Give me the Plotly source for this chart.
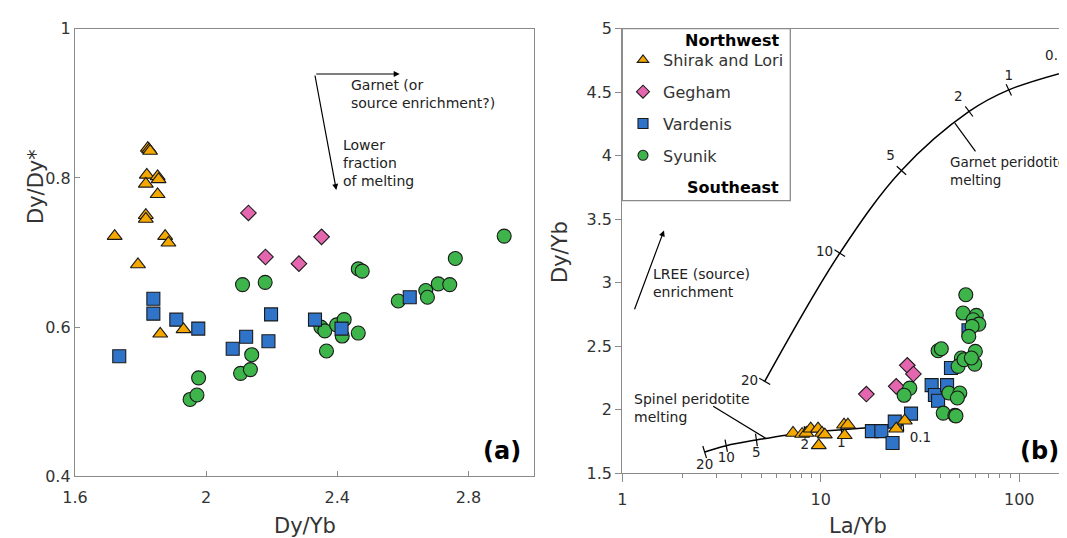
import numpy as np
import plotly.graph_objects as go

W, H = 1067, 538

# ---------------- data : panel (a) Dy/Dy* vs Dy/Yb ----------------
shirak_a_x = [1.822, 1.826, 1.829, 1.819, 1.852, 1.855, 1.816, 1.852, 1.816, 1.816, 1.721, 1.875, 1.885, 1.792, 1.860, 1.931]
shirak_a_y = [0.840, 0.838, 0.836, 0.804, 0.802, 0.798, 0.792, 0.778, 0.750, 0.745, 0.722, 0.722, 0.713, 0.684, 0.591, 0.597]

gegham_a_x = [2.129, 2.352, 2.181, 2.283]
gegham_a_y = [0.753, 0.721, 0.694, 0.685]

vardenis_a_x = [1.735, 1.839, 1.839, 1.909, 1.976, 2.081, 2.122, 2.190, 2.198, 2.332, 2.413, 2.621]
vardenis_a_y = [0.561, 0.638, 0.618, 0.610, 0.598, 0.571, 0.587, 0.581, 0.617, 0.610, 0.598, 0.640]

syunik_a_x = [1.951, 1.972, 1.977, 2.105, 2.135, 2.139, 2.111, 2.180, 2.350, 2.362, 2.398, 2.421,
              2.415, 2.464, 2.367, 2.464, 2.476, 2.586, 2.670, 2.675, 2.708, 2.743, 2.760, 2.909]
syunik_a_y = [0.503, 0.509, 0.532, 0.538, 0.543, 0.563, 0.657, 0.660, 0.600, 0.595, 0.603, 0.610,
              0.588, 0.592, 0.568, 0.678, 0.675, 0.635, 0.649, 0.640, 0.658, 0.657, 0.692, 0.722]

# ---------------- data : panel (b) Dy/Yb vs La/Yb ----------------
shirak_b_x = [7.25, 8.05, 8.46, 8.90, 9.69, 10.15, 10.48, 9.77, 13.1, 13.7, 13.2, 24.0, 26.5]
shirak_b_y = [1.815, 1.807, 1.815, 1.849, 1.849, 1.815, 1.802, 1.718, 1.880, 1.880, 1.797, 1.849, 1.912]

gegham_b_x = [16.97, 24.0, 27.3, 29.3]
gegham_b_y = [2.122, 2.183, 2.348, 2.280]

vardenis_b_x = [18.1, 20.2, 23.0, 23.6, 28.5, 36.2, 37.6, 39.0, 43.3, 45.3, 55.5]
vardenis_b_y = [1.830, 1.830, 1.736, 1.905, 1.968, 2.192, 2.114, 2.069, 2.192, 2.327, 2.625]

syunik_b_x = [53.8, 52.1, 60.8, 58.6, 62.6, 57.9, 55.7, 39.0, 40.5, 51.1, 60.1, 49.2,
              52.7, 59.7, 57.4, 28.1, 26.3, 44.2, 50.2, 48.8, 41.4, 47.4, 48.0]
syunik_b_y = [2.904, 2.760, 2.742, 2.707, 2.673, 2.655, 2.576, 2.463, 2.479, 2.406, 2.458, 2.340,
              2.392, 2.358, 2.406, 2.169, 2.112, 2.130, 2.130, 2.091, 1.972, 1.954, 1.950]

# melting curves (% melting labels)
garnet_x = [5.22, 12.47, 25.5, 55.9, 88.6, 187.0]
garnet_y = [2.222, 3.232, 3.883, 4.348, 4.518, 4.676]
garnet_labels = ["20", "10", "5", "2", "1", "0.1"]

spinel_x = [2.60, 3.34, 4.74, 8.3, 12.7, 26.0]
spinel_y = [1.665, 1.715, 1.760, 1.820, 1.840, 1.878]
spinel_labels = ["20", "10", "5", "2", "1", "0.1"]

# leader lines for curve names (data coords)
garnet_leader_x = [47.4, 60.2]
garnet_leader_y = [4.256, 4.033]
spinel_leader_x = [5.32, 2.87]
spinel_leader_y = [1.770, 2.025]

# axis ticks
a_xticks = [1.6, 2.0, 2.4, 2.8]
a_xtext = ["1.6", "2", "2.4", "2.8"]
a_yticks = [0.4, 0.6, 0.8, 1.0]
a_ytext = ["0.4", "0.6", "0.8", "1"]
b_yticks = [1.5, 2.0, 2.5, 3.0, 3.5, 4.0, 4.5, 5.0]
b_ytext = ["1.5", "2", "2.5", "3", "3.5", "4", "4.5", "5"]
b_xticks = [1, 10, 100]
b_xtext = ["1", "10", "100"]
b_xminor = [2, 3, 4, 5, 6, 7, 8, 9, 20, 30, 40, 50, 60, 70, 80, 90]

# ---------------- styling ----------------
FONT = "DejaVu Sans"
AXC = "#8a8a8a"
TXT = "#333333"
OUT = dict(color="#1a1a1a", width=1.1)
STY = {
    "Shirak and Lori": dict(symbol="triangle-up", color="#F5A800", size=13),
    "Gegham": dict(symbol="diamond", color="#E466AE", size=12),
    "Vardenis": dict(symbol="square", color="#2F74C8", size=13),
    "Syunik": dict(symbol="circle", color="#3DB54A", size=14),
}
LEGEND_ORDER = ["Shirak and Lori", "Gegham", "Vardenis", "Syunik"]


def px(x):
    return x / W


def py(y):
    return 1 - y / H


fig = go.Figure()

# panel (a) traces (draw order: circles, squares, diamonds, triangles)
for name, xs, ys in [("Syunik", syunik_a_x, syunik_a_y),
                     ("Vardenis", vardenis_a_x, vardenis_a_y),
                     ("Gegham", gegham_a_x, gegham_a_y),
                     ("Shirak and Lori", shirak_a_x, shirak_a_y)]:
    s = STY[name]
    fig.add_trace(go.Scatter(x=xs, y=ys, mode="markers", name=name, showlegend=False,
                             xaxis="x", yaxis="y",
                             marker=dict(symbol=s["symbol"], color=s["color"], size=s["size"], line=OUT)))

# panel (b) curves
fig.add_trace(go.Scatter(x=garnet_x, y=garnet_y, mode="lines", line=dict(color="black", width=1.5, shape="spline"),
                         showlegend=False, xaxis="x2", yaxis="y2", hoverinfo="skip"))
fig.add_trace(go.Scatter(x=spinel_x, y=spinel_y, mode="lines", line=dict(color="black", width=1.5, shape="spline"),
                         showlegend=False, xaxis="x2", yaxis="y2", hoverinfo="skip"))
# tick marks on curves
garnet_angles = [-60, -57, -48, -37, -25, -17]
spinel_angles = [-17, -11, -8, -4, -4, -5]
fig.add_trace(go.Scatter(x=garnet_x, y=garnet_y, mode="markers+text", text=garnet_labels,
                         textposition=["middle left", "middle left", "top left", "top left", "top center", "top left"],
                         textfont=dict(family=FONT, size=13.5, color="#222"),
                         marker=dict(symbol="line-ns", size=9, angle=garnet_angles, line=dict(color="black", width=1.2)),
                         showlegend=False, xaxis="x2", yaxis="y2", hoverinfo="skip"))
fig.add_trace(go.Scatter(x=spinel_x, y=spinel_y, mode="markers+text", text=spinel_labels,
                         textposition=["bottom center", "bottom center", "bottom center", "bottom center", "bottom center", "bottom right"],
                         textfont=dict(family=FONT, size=13.5, color="#222"),
                         marker=dict(symbol="line-ns", size=9, angle=spinel_angles, line=dict(color="black", width=1.2)),
                         showlegend=False, xaxis="x2", yaxis="y2", hoverinfo="skip"))
# leader lines
for lx, ly in [(garnet_leader_x, garnet_leader_y), (spinel_leader_x, spinel_leader_y)]:
    fig.add_trace(go.Scatter(x=lx, y=ly, mode="lines", line=dict(color="black", width=1.2),
                             showlegend=False, xaxis="x2", yaxis="y2", hoverinfo="skip"))

# panel (b) data traces
for name, xs, ys in [("Vardenis", vardenis_b_x, vardenis_b_y),
                     ("Shirak and Lori", shirak_b_x, shirak_b_y),
                     ("Gegham", gegham_b_x, gegham_b_y),
                     ("Syunik", syunik_b_x, syunik_b_y)]:
    s = STY[name]
    fig.add_trace(go.Scatter(x=xs, y=ys, mode="markers", name=name, showlegend=False,
                             legendgroup=name, xaxis="x2", yaxis="y2",
                             marker=dict(symbol=s["symbol"], color=s["color"], size=s["size"], line=OUT)))

# legend entries (smaller legend swatches, no data)
for i, name in enumerate(LEGEND_ORDER):
    s = STY[name]
    fig.add_trace(go.Scatter(x=[None], y=[None], mode="markers", name=name, legendgroup=name,
                             legendrank=i + 1, xaxis="x2", yaxis="y2",
                             marker=dict(symbol=s["symbol"], color=s["color"], size=10, line=OUT)))

tickfont = dict(family=FONT, size=16, color=TXT)
axis_common = dict(showline=True, linecolor=AXC, linewidth=1.3, tickcolor=AXC, showgrid=False,
                   zeroline=False, tickfont=tickfont, automargin=False)

fig.update_layout(
    width=W, height=H,
    margin=dict(l=0, r=0, t=0, b=0),
    paper_bgcolor="white", plot_bgcolor="white",
    font=dict(family=FONT, color=TXT),
    xaxis=dict(domain=[px(67), px(526)], range=[1.6, 3.0], tickmode="array", tickvals=a_xticks, ticktext=a_xtext,
               ticks="inside", ticklen=5, mirror=True, anchor="y", ticklabelstandoff=6, **axis_common),
    yaxis=dict(domain=[py(468.3), py(20.7)], range=[0.4, 1.0], tickmode="array", tickvals=a_yticks, ticktext=a_ytext,
               ticks="inside", ticklen=5, mirror=True, anchor="x", **axis_common),
    xaxis2=dict(domain=[px(614.3), 1.0], type="log", range=[0, np.log10(191)], tickmode="array",
                tickvals=b_xticks, ticktext=b_xtext, ticks="outside", ticklen=8, mirror=True, anchor="y2",
                ticklabelstandoff=4,
                minor=dict(tickmode="array", tickvals=b_xminor, ticks="outside", ticklen=4, tickcolor=AXC,
                           showgrid=False), **axis_common),
    yaxis2=dict(domain=[py(465), py(20.7)], range=[1.5, 5.0], tickmode="array", tickvals=b_yticks, ticktext=b_ytext,
                ticks="outside", ticklen=6, mirror=False, anchor="x2", **axis_common),
    showlegend=True,
    legend=dict(x=px(615), y=py(35), xanchor="left", yanchor="top", bgcolor="rgba(0,0,0,0)",
                font=dict(family=FONT, size=16, color=TXT), tracegroupgap=8, itemsizing="trace"),
)

# legend box
fig.add_shape(type="rect", xref="paper", yref="paper", x0=px(614.3), x1=px(782.3), y0=py(192.7), y1=py(20.7),
              line=dict(color=AXC, width=1.3), fillcolor="rgba(0,0,0,0)")

ann = []


def text(x, y, t, size=14, xanchor="left", bold=False, angle=0, color="#222"):
    ann.append(dict(x=px(x), y=py(y), xref="paper", yref="paper", text=(f"<b>{t}</b>" if bold else t),
                    showarrow=False, xanchor=xanchor, yanchor="middle", align=xanchor if xanchor != "center" else "center",
                    textangle=angle, font=dict(family=FONT, size=size, color=color)))


def arrow(x, y, x0, y0):
    ann.append(dict(x=px(x), y=py(y), xref="paper", yref="paper", text="", showarrow=True,
                    ax=x0 - x, ay=y0 - y, arrowhead=2, arrowsize=1, arrowwidth=1.2, arrowcolor="black",
                    standoff=0, startstandoff=0))


# axis titles
text(296.5, 518, "Dy/Yb", size=21, xanchor="center", color=TXT)
text(850, 518, "La/Yb", size=21, xanchor="center", color=TXT)
text(28, 179, "Dy/Dy*", size=21, xanchor="center", angle=-90, color=TXT)
text(552, 244, "Dy/Yb", size=21, xanchor="center", angle=-90, color=TXT)

# panel (a) notes
arrow(391.7, 66, 306.7, 66)
arrow(328.3, 182, 306.7, 66)
text(341, 86.4, "Garnet (or<br>source enrichment?)", size=14)
text(333, 154.5, "Lower<br>fraction<br>of melting", size=14)
text(515, 442.6, "(a)", size=24, xanchor="right", bold=True, color="black")

# panel (b) notes
arrow(656, 222.4, 626, 302.7)
text(643, 274.6, "LREE (source)<br>enrichment", size=14)
text(624, 399.5, "Spinel peridotite<br>melting", size=14)
text(940, 163, "Garnet peridotite<br>melting", size=13.5)
text(1053, 442.7, "(b)", size=24, xanchor="right", bold=True, color="black")
text(772.7, 32.3, "Northwest", size=16, xanchor="right", bold=True, color="black")
text(772.7, 180, "Southeast", size=16, xanchor="right", bold=True, color="black")

fig.update_layout(annotations=ann)

fig.write_html("out.html")
